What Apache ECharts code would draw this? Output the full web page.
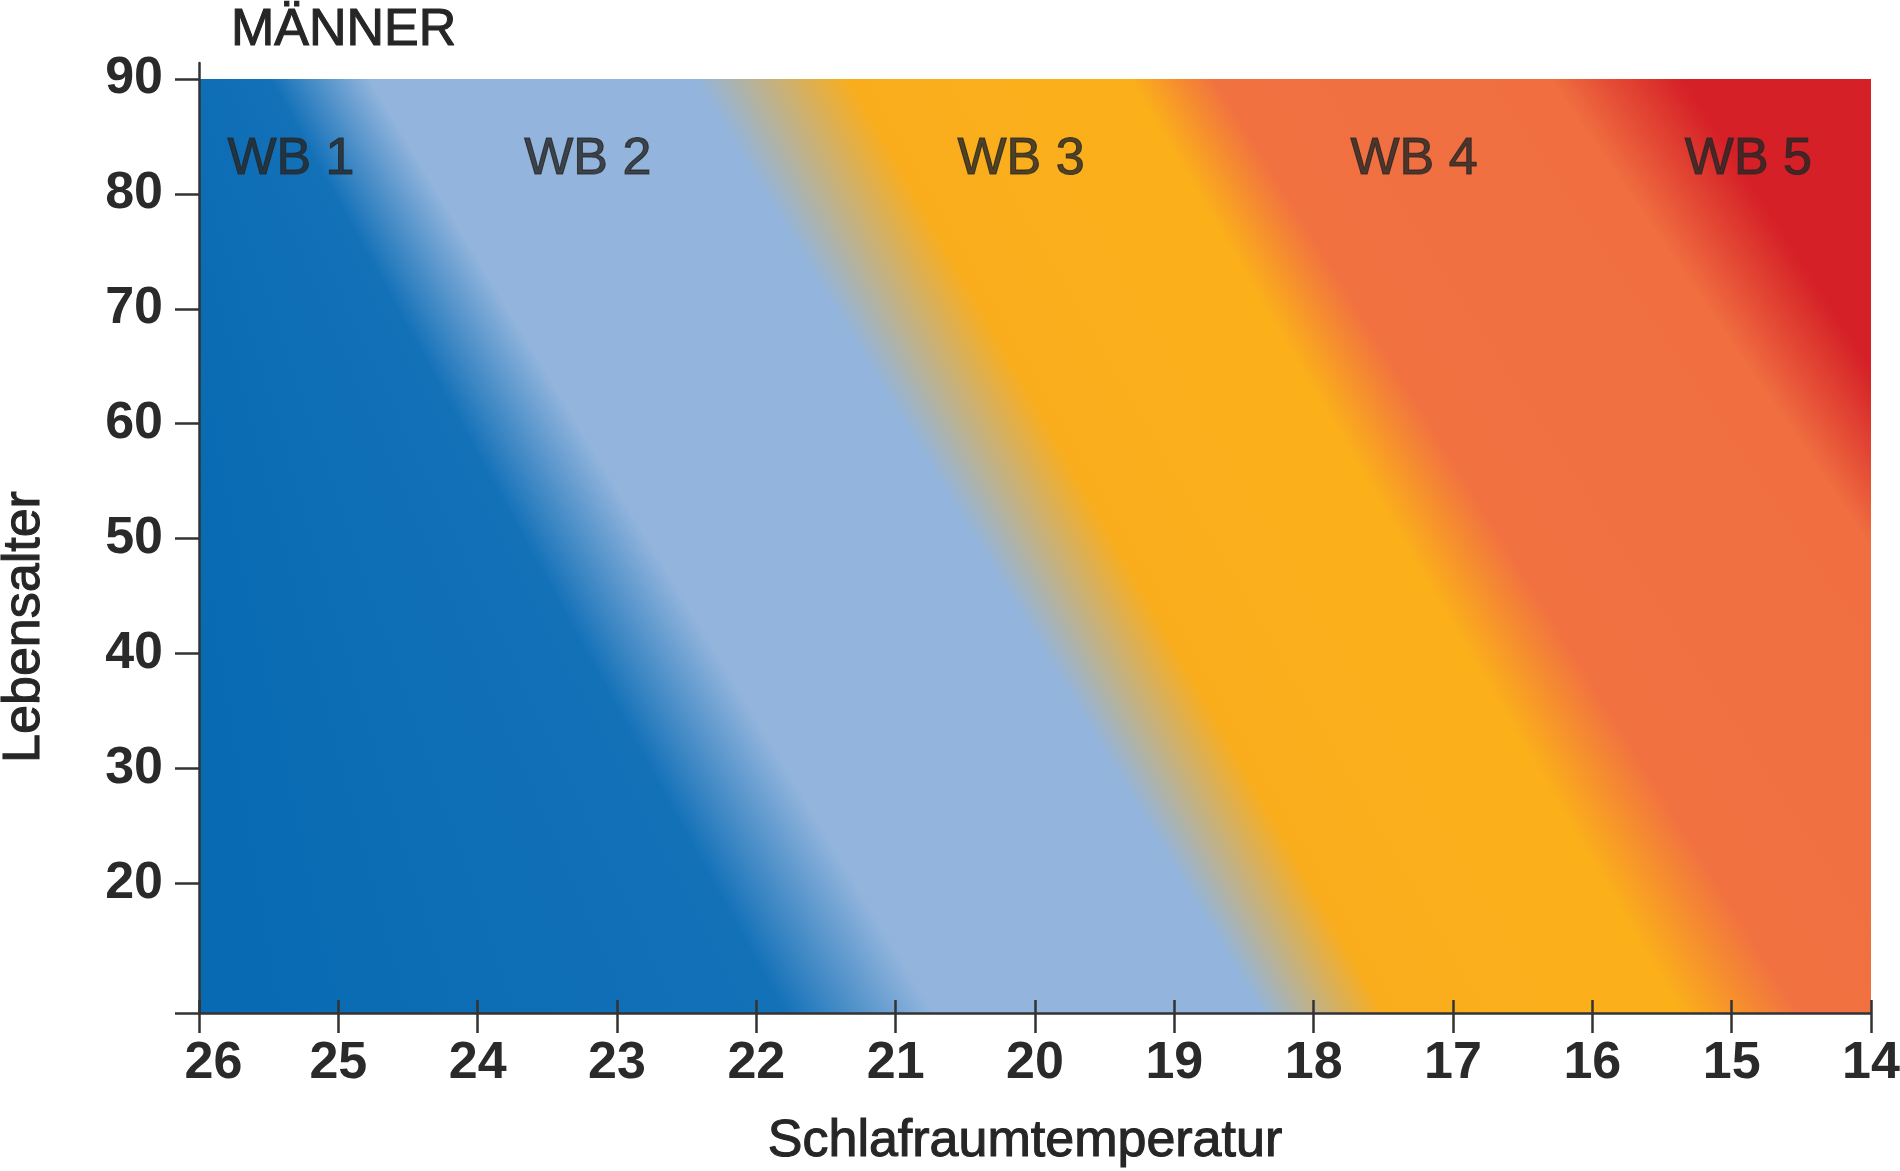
<!DOCTYPE html>
<html>
<head>
<meta charset="utf-8">
<script src="https://cdn.jsdelivr.net/npm/echarts@6/dist/echarts.min.js"></script>
<style>
html,body{margin:0;padding:0;background:#fff;}
#chart{width:1900px;height:1171px;}
</style>
</head>
<body>
<div id="chart"></div>
<script>
// ---- data ----
const chartTitle = 'MÄNNER';
const xAxisName = 'Schlafraumtemperatur';
const yAxisName = 'Lebensalter';
const tempMin = 14;
const tempMax = 26;
const ageAxisMin = 8.7;
const ageAxisMax = 91.4;
const ageTickLabels = [20, 30, 40, 50, 60, 70, 80, 90];
const fieldAgeTop = 90;
const fieldAgeBottom = 8.7;
// colour stops of the background field (left to right), temperature at the top / bottom edge
const stopColors       = ['#0468b0', '#1371b8', '#93b5dd', '#93b5dd', '#f9ad1d', '#fbb01a', '#f17141', '#f06e40', '#d52027', '#d41f27'];
const stopTempAtTop    = [27.0, 25.49, 24.77, 22.44, 21.33, 19.32, 18.71, 16.30, 15.35, 13.0];
const stopTempAtBottom = [27.0, 21.80, 20.72, 18.37, 17.49, 15.37, 14.51, 11.70, 11.00, 9.0];
// zone labels
const zoneNames = ['WB 1', 'WB 2', 'WB 3', 'WB 4', 'WB 5'];
const zoneLabelTemps = [25.34, 23.21, 20.10, 17.28, 14.88];
const zoneLabelAge = 83;

const FONT = 'Liberation Sans, Arial, sans-serif';
const AX = '#333333';
const TXT = '#262626';

function renderField(params, api) {
  const cs = params.coordSys;
  const yTop = api.coord([tempMax, fieldAgeTop])[1];
  const yBot = api.coord([tempMax, fieldAgeBottom])[1];
  const xsTop = stopTempAtTop.map(t => api.coord([t, fieldAgeTop])[0]);
  const xsBot = stopTempAtBottom.map(t => api.coord([t, fieldAgeBottom])[0]);
  const children = [];
  const step = 2;
  for (let y = yTop; y < yBot; y += step) {
    const h = Math.min(step, yBot - y);
    const f = (y + h / 2 - yTop) / (yBot - yTop);
    const xs = xsTop.map((x, i) => x + f * (xsBot[i] - x));
    const x0 = xs[0], x1 = xs[xs.length - 1];
    const stops = xs.map((x, i) => ({offset: (x - x0) / (x1 - x0), color: stopColors[i]}));
    children.push({
      type: 'rect',
      shape: {x: cs.x, y: y, width: cs.width, height: h + (y + h < yBot - 0.01 ? 0.8 : 0)},
      style: {fill: new echarts.graphic.LinearGradient(x0, 0, x1, 0, stops, true)},
      silent: true
    });
  }
  return {type: 'group', children: children};
}

const chart = echarts.init(document.getElementById('chart'), null, {renderer: 'canvas'});
const tickStyle = {color: AX, width: 2.5};
const medium = {color: TXT, fontFamily: FONT, fontWeight: 'normal', textBorderColor: TXT, textBorderWidth: 1.1};
const tickFont = {fontSize: 52, fontWeight: 'bold', color: '#2a2a2a', fontFamily: FONT};
const option = {
  animation: false,
  backgroundColor: '#ffffff',
  textStyle: {fontFamily: FONT},
  title: {
    text: chartTitle,
    left: 226,
    top: 0,
    textStyle: Object.assign({fontSize: 52}, medium)
  },
  grid: {left: 199, right: 29, top: 63, bottom: 158, containLabel: false, outerBoundsMode: 'none'},
  xAxis: [
    {
      type: 'value', min: tempMin, max: tempMax, interval: 1, inverse: true, position: 'bottom',
      name: xAxisName, nameLocation: 'middle', nameGap: 103,
      nameTextStyle: Object.assign({fontSize: 52, padding: [0, 20, 0, 0]}, medium),
      axisLine: {show: true, onZero: false, lineStyle: {color: AX, width: 2.5}},
      axisTick: {show: true, inside: false, length: 20, lineStyle: tickStyle},
      axisLabel: Object.assign({
        margin: 25,
        formatter: v => (v === tempMax ? '{first|' + v + '}' : String(v)),
        rich: {first: Object.assign({padding: [0, 0, 0, 29]}, tickFont)}
      }, tickFont),
      splitLine: {show: false},
      z: 10
    },
    {
      type: 'value', min: tempMin, max: tempMax, interval: 1, inverse: true, position: 'bottom',
      axisLine: {show: false, onZero: false},
      axisTick: {show: true, inside: true, length: 13, lineStyle: tickStyle},
      axisLabel: {show: false},
      splitLine: {show: false},
      z: 10
    }
  ],
  yAxis: {
    type: 'value', min: ageAxisMin, max: ageAxisMax, position: 'left',
    name: yAxisName, nameLocation: 'middle', nameGap: 148, nameRotate: 90,
    nameTextStyle: Object.assign({fontSize: 52, padding: [0, 178, 0, 0]}, medium),
    axisLine: {show: true, onZero: false, lineStyle: {color: AX, width: 2.5}},
    axisTick: {show: true, length: 24, lineStyle: tickStyle, customValues: [ageAxisMin].concat(ageTickLabels)},
    axisLabel: Object.assign({margin: 36, customValues: ageTickLabels}, tickFont),
    splitLine: {show: false},
    z: 10
  },
  series: [
    {
      type: 'custom', coordinateSystem: 'cartesian2d', xAxisIndex: 0, yAxisIndex: 0,
      data: [[20, 50]], renderItem: renderField, silent: true, z: 1, clip: true
    },
    {
      type: 'scatter', xAxisIndex: 0, yAxisIndex: 0, silent: true, z: 3,
      symbolSize: 1, itemStyle: {color: 'rgba(0,0,0,0)'},
      data: zoneNames.map((n, i) => ({name: n, value: [zoneLabelTemps[i], zoneLabelAge]})),
      label: Object.assign({show: true, position: 'inside', formatter: '{b}', fontSize: 52}, medium)
    }
  ]
};
chart.setOption(option);
</script>
</body>
</html>
